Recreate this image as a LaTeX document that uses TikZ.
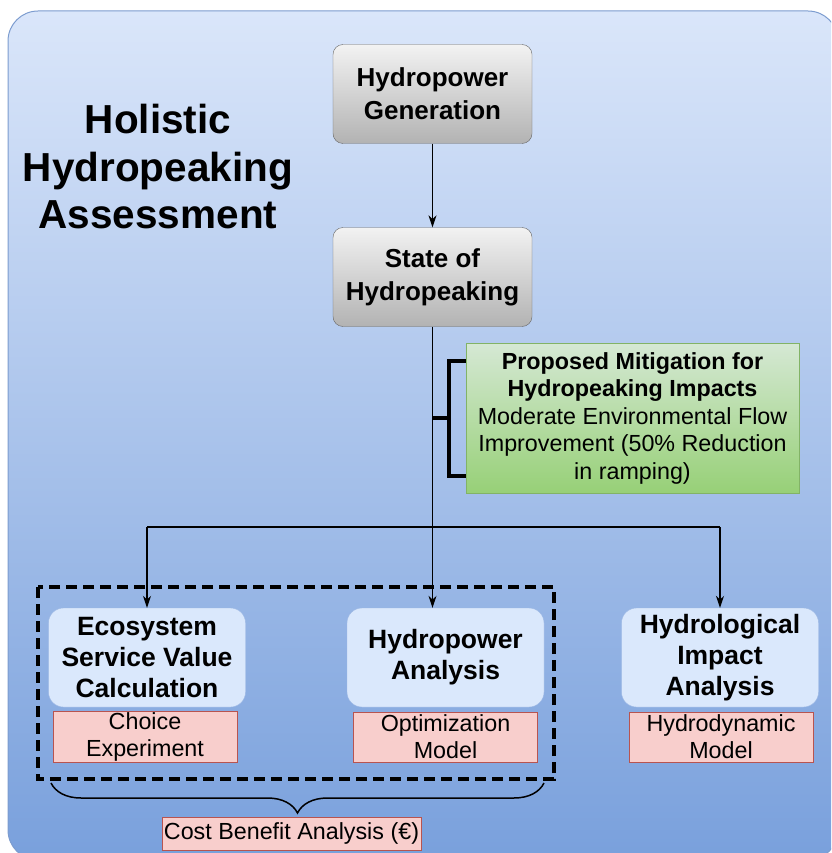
\documentclass[tikz,border=0pt]{standalone}
\usepackage{fontspec}
\setmainfont{Liberation Sans}
\usetikzlibrary{arrows.meta,positioning,calc,decorations.pathreplacing,backgrounds}
\definecolor{bgtop}{HTML}{DAE6FA}
\definecolor{bgbottom}{HTML}{79A0DC}
\definecolor{bgline}{HTML}{7C9CCF}
\definecolor{greyline}{HTML}{666666}
\definecolor{greentop}{HTML}{D5E8D4}
\definecolor{greenbottom}{HTML}{97D077}
\definecolor{greenline}{HTML}{82B366}
\definecolor{bluefill}{HTML}{DAE8FC}
\definecolor{blueline}{HTML}{9DB8E4}
\definecolor{pinkfill}{HTML}{F8CECC}
\definecolor{pinkline}{HTML}{B85450}

\begin{document}
\begin{tikzpicture}[x=1pt,y=-1pt,
    greybox/.style={draw=greyline, rounded corners=10pt, top color=white!95!black, bottom color=black!30,
        minimum width=199pt, minimum height=99pt, align=center, font=\fontsize{26}{33}\selectfont\bfseries},
    greenbox/.style={draw=greenline, top color=greentop, bottom color=greenbottom,
        minimum width=333pt, minimum height=150pt, align=center, font=\fontsize{23.3}{27.5}\selectfont},
    bluebox/.style={draw=blueline, fill=bluefill, rounded corners=15pt,
        minimum width=197pt, minimum height=99pt, align=center, font=\fontsize{26.5}{31}\selectfont\bfseries},
    pinkbox/.style={draw=pinkline, fill=pinkfill, line width=1pt,
        minimum width=184pt, minimum height=50pt, inner sep=1pt, align=center, font=\fontsize{23.3}{27}\selectfont},
    link/.style={line width=1.2pt, -{Stealth[length=12pt,width=8pt]}},
    ]
    \useasboundingbox (0,0) rectangle (831,853);
    % background panel
    \begin{scope}
        \clip (0,0) rectangle (831,853);
        \draw[bgline, line width=1pt, rounded corners=30pt, top color=bgtop, bottom color=bgbottom] (8,11) rectangle (838,860);
    \end{scope}

    \node[align=center, font=\fontsize{40.5}{47.5}\selectfont\bfseries] (title) at (158,167) {Holistic\\Hydropeaking\\Assessment};

    \node[greybox] (gen) at (432.5,94) {Hydropower\\Generation};
    \node[greybox] (state) at (432.5,277) {State of\\Hydropeaking};
    \node[greenbox] (mitig) at (632.5,418) {\textbf{Proposed Mitigation for}\\\textbf{Hydropeaking Impacts}\\Moderate Environmental Flow\\Improvement (50\% Reduction\\in ramping)};

    \node[bluebox] (eco) at (147,657.5) {Ecosystem\\Service Value\\Calculation};
    \node[bluebox] (hpa) at (445.5,657.5) {Hydropower\\Analysis};
    \node[bluebox] (hyd) at (720,657.5) {Hydrological\\Impact\\Analysis};

    \node[pinkbox] (choice) at (145,737) {Choice\\Experiment};
    \node[pinkbox] (optim) at (445.5,737) {Optimization\\Model};
    \node[pinkbox] (hdm) at (721,737) {Hydrodynamic\\Model};

    \coordinate (split) at (432.5,527);

    % connectors
    \draw[link] (gen) -- (state);
    \draw[line width=1.2pt] (state) -- (split);
    \draw[line width=1.2pt] (split -| eco) -- (split -| hyd);
    \draw[link] (split -| eco) -- (eco);
    \draw[link] (split) -- (split |- hpa.north);
    \draw[link] (split -| hyd) -- (hyd);

    % bracket to the mitigation box
    \draw[line width=3.5pt] ([yshift=-18pt]mitig.north west) -| ([xshift=-17pt]mitig.west) |- ([yshift=17pt]mitig.south west);
    \draw[line width=3.5pt] (state.south |- mitig.west) -- ([xshift=-17pt]mitig.west);

    % economic part
    \draw[line width=3.5pt, dash pattern=on 11pt off 6pt] (38,587) rectangle (554,779);
    \draw[decorate, decoration={brace, amplitude=30pt, mirror}, line width=1.5pt] (51,783) -- (544,783);
    \node[pinkbox, minimum width=259pt, minimum height=33pt] (cba) at (291.5,833.5) {Cost Benefit Analysis (€)};
\end{tikzpicture}
\end{document}
